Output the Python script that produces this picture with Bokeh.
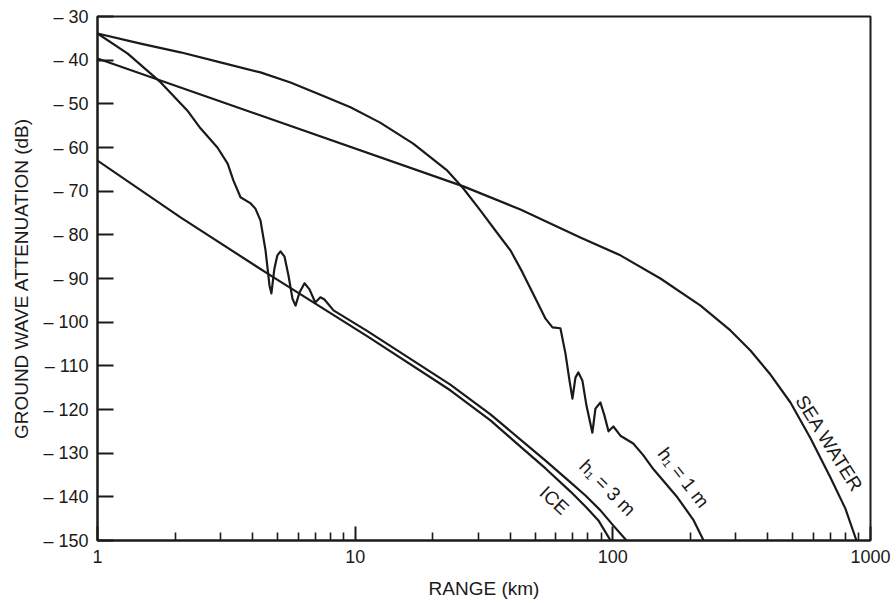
from bokeh.plotting import figure
from bokeh.models import FixedTicker, Range1d
from bokeh.embed import file_html
from bokeh.resources import INLINE
from bokeh.core.properties import value

# ---------------- data ----------------
SEA_X = [1, 26.3, 43.8, 74.8, 107, 153, 219, 286, 342, 409, 489, 585, 699, 799, 882]
SEA_Y = [-39.6, -68.9, -74.2, -80.6, -84.7, -90.0, -96.2, -101.9, -106.5, -112.0,
         -118.4, -126.6, -135.6, -142.7, -150]

ICE_X = [1, 2.10, 4.69, 11.2, 23.4, 33.5, 43.8, 54.8, 68.5, 78.3, 87.9, 98.0]
ICE_Y = [-63.0, -76.0, -89.3, -103.3, -115.6, -122.5, -128.5, -133.5, -138.8, -142.2,
         -145.4, -150]

H3_X = [1, 1.31, 1.76, 2.23, 2.51, 2.92, 3.20, 3.37, 3.59, 3.93, 4.10, 4.29, 4.49, 4.65,
        4.73, 4.86, 4.99, 5.13, 5.32, 5.51, 5.71, 5.87, 6.08, 6.36, 6.65, 7.0, 7.33, 7.60,
        8.24, 11.2, 23.4, 33.5, 43.8, 54.8, 68.5, 78.3, 89.5, 100.5, 113]
H3_Y = [-33.9, -38.5, -45.1, -51.5, -55.6, -60.0, -63.7, -67.6, -71.4, -72.8, -74.0, -76.7,
        -83.6, -91.6, -93.4, -87.7, -84.7, -83.8, -85.0, -89.3, -94.6, -96.2, -93.2, -91.1,
        -92.5, -95.5, -94.3, -94.8, -97.3, -102.1, -114.3, -121.1, -126.9, -131.7, -136.7,
        -139.7, -143.1, -146.6, -150]

H1_X = [1, 1.47, 2.10, 3.0, 4.29, 5.61, 7.33, 9.59, 12.5, 16.8, 22.8, 26.3, 30.6, 35.0,
        40.1, 44.6, 50.1, 54.8, 58.3, 62.6, 65.5, 67.9, 69.7, 71.6, 73.5, 76.2, 79.0, 83.3,
        85.6, 89.5, 92.8, 96.2, 100.5, 107, 120, 131.4, 143.8, 160, 178, 206, 225]
H1_Y = [-33.9, -36.2, -38.2, -40.5, -42.8, -45.1, -47.9, -50.8, -54.3, -59.1, -65.3, -69.4,
        -74.4, -79.0, -83.6, -88.6, -94.6, -99.2, -101.2, -101.4, -107.2, -113.4, -117.5,
        -112.7, -111.5, -113.4, -119.1, -125.3, -119.8, -118.4, -121.4, -125.0, -123.9,
        -126.0, -127.8, -130.5, -133.7, -136.9, -140.1, -145.4, -150]

CURVE_LABELS = ["SEA WATER", "ICE", "h\u2081 = 3 m", "h\u2081 = 1 m"]

X_TICKS = [1, 10, 100, 1000]
X_TICK_LABELS = ["1", "10", "100", "1000"]
X_MINOR = [2, 3, 4, 5, 6, 7, 8, 9, 20, 30, 40, 50, 60, 70, 80, 90,
           200, 300, 400, 500, 600, 700, 800, 900]
Y_TICKS = [-150, -140, -130, -120, -110, -100, -90, -80, -70, -60, -50, -40, -30]
Y_TICK_LABELS = ["\u2013 150", "\u2013 140", "\u2013 130", "\u2013 120", "\u2013 110",
                 "\u2013 100", "\u2013 90", "\u2013 80", "\u2013 70", "\u2013 60",
                 "\u2013 50", "\u2013 40", "\u2013 30"]

# ---------------- figure ----------------
FONT = "Liberation Sans"
INK = "#1a1a1a"

p = figure(width=896, height=603, x_axis_type="log",
           x_range=Range1d(1, 1000), y_range=Range1d(-150, -30),
           output_backend="svg", toolbar_location=None,
           min_border_left=97, min_border_right=26,
           min_border_top=16, min_border_bottom=63,
           background_fill_color="white", border_fill_color="white")

p.xgrid.visible = False
p.ygrid.visible = False
p.outline_line_color = INK
p.outline_line_width = 2

for xs, ys in [(SEA_X, SEA_Y), (ICE_X, ICE_Y), (H3_X, H3_Y), (H1_X, H1_Y)]:
    p.line(xs, ys, line_color=INK, line_width=2.2, line_join="round", line_cap="round")

# curve labels (placement / orientation only)
lab_x = [692, 59.3, 95.3, 188]
lab_y = [-127.8, -140.8, -137.9, -135.6]
lab_a = [-58, -43, -45, -52]
p.text(x=lab_x, y=lab_y, text=CURVE_LABELS, angle=lab_a, angle_units="deg",
       text_font=value(FONT), text_font_size="19px", text_color=INK,
       text_align="center", text_baseline="middle")

# x axis
xa = p.xaxis[0]
xa.ticker = FixedTicker(ticks=X_TICKS, minor_ticks=X_MINOR)
xa.major_label_overrides = dict(zip(X_TICKS, X_TICK_LABELS))
xa.axis_label = "RANGE (km)"
xa.axis_line_color = INK
xa.axis_line_width = 2
xa.major_tick_in = 14
xa.major_tick_out = 0
xa.minor_tick_in = 8
xa.minor_tick_out = 0
xa.major_tick_line_color = INK
xa.major_tick_line_width = 2
xa.minor_tick_line_color = INK
xa.minor_tick_line_width = 1.6
xa.major_label_standoff = 9
xa.axis_label_standoff = 12
xa.major_label_text_font = FONT
xa.major_label_text_font_size = "18px"
xa.major_label_text_color = INK
xa.axis_label_text_font = FONT
xa.axis_label_text_font_size = "19px"
xa.axis_label_text_font_style = "normal"
xa.axis_label_text_color = INK

# y axis
ya = p.yaxis[0]
ya.ticker = FixedTicker(ticks=Y_TICKS, minor_ticks=[])
ya.major_label_overrides = dict(zip(Y_TICKS, Y_TICK_LABELS))
ya.axis_label = "GROUND WAVE ATTENUATION (dB)"
ya.axis_line_color = INK
ya.axis_line_width = 2
ya.major_tick_in = 16
ya.major_tick_out = 0
ya.minor_tick_in = 0
ya.minor_tick_out = 0
ya.major_tick_line_color = INK
ya.major_tick_line_width = 2
ya.major_label_standoff = 9
ya.axis_label_standoff = 8
ya.major_label_text_font = FONT
ya.major_label_text_font_size = "18px"
ya.major_label_text_color = INK
ya.axis_label_text_font = FONT
ya.axis_label_text_font_size = "19px"
ya.axis_label_text_font_style = "normal"
ya.axis_label_text_color = INK

open("out.html", "w").write(file_html(p, INLINE))
